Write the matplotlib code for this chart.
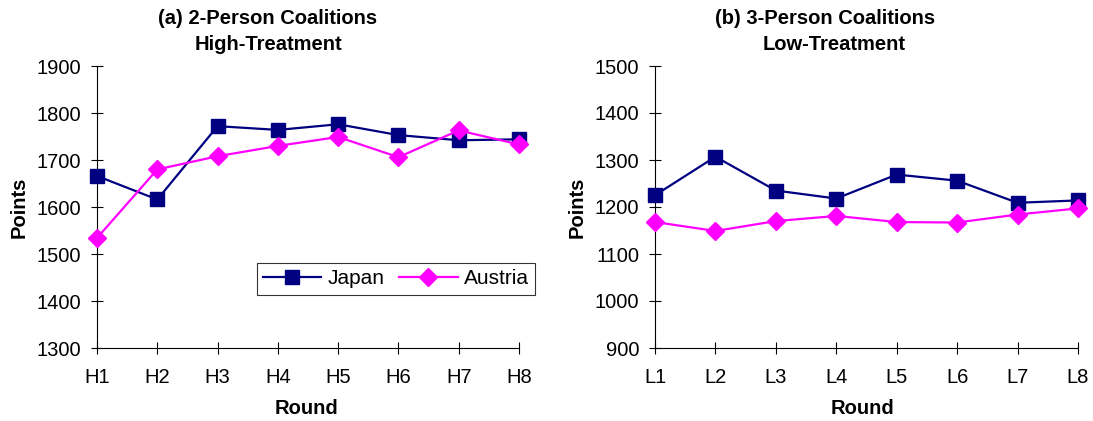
import matplotlib
matplotlib.use("Agg")
import matplotlib.pyplot as plt

plt.rcParams['font.family'] = ['Liberation Sans', 'DejaVu Sans']

# average points per round
high_rounds = ['H1', 'H2', 'H3', 'H4', 'H5', 'H6', 'H7', 'H8']
high_japan = [1666, 1616, 1772, 1764, 1776, 1753, 1742, 1744]
high_austria = [1534, 1680, 1708, 1730, 1749, 1706, 1763, 1733]

low_rounds = ['L1', 'L2', 'L3', 'L4', 'L5', 'L6', 'L7', 'L8']
low_japan = [1225, 1307, 1235, 1218, 1269, 1256, 1209, 1214]
low_austria = [1168, 1149, 1170, 1181, 1168, 1167, 1184, 1197]

navy = '#000080'
magenta = '#FF00FF'

fig = plt.figure(figsize=(10.93, 4.21), dpi=100)
ax1 = fig.add_axes([97/1093, 73/421, 422/1093, 282/421])
ax2 = fig.add_axes([655/1093, 73/421, 423/1093, 282/421])


def draw(ax, rounds, japan, austria, ylim):
    x = range(len(rounds))
    ax.plot(x, japan, color=navy, lw=1.6, marker='s', ms=10, label='Japan', clip_on=False, zorder=3)
    ax.plot(x, austria, color=magenta, lw=1.6, marker='D', ms=9.5, label='Austria', clip_on=False, zorder=4)
    ax.set_xlim(0, len(rounds) - 1)
    ax.set_ylim(*ylim)
    ax.set_yticks(range(ylim[0], ylim[1] + 1, 100))
    ax.set_xticks(list(x))
    ax.set_xticklabels(rounds)
    for s in ['top', 'right']:
        ax.spines[s].set_visible(False)
    for s in ['left', 'bottom']:
        ax.spines[s].set_linewidth(0.8)
    ax.tick_params(direction='inout', length=9, width=0.8, labelsize=14.5)
    ax.tick_params(axis='y', pad=7)
    ax.tick_params(axis='x', pad=10)


draw(ax1, high_rounds, high_japan, high_austria, (1300, 1900))
draw(ax2, low_rounds, low_japan, low_austria, (900, 1500))

title_kw = dict(ha='center', va='center', fontsize=14.5, fontweight='bold')
fig.text(268/1093, 1 - 18/421, '(a) 2-Person Coalitions', **title_kw)
fig.text(268/1093, 1 - 45/421, 'High-Treatment', **title_kw)
fig.text(825/1093, 1 - 18/421, '(b) 3-Person Coalitions', **title_kw)
fig.text(834/1093, 1 - 45/421, 'Low-Treatment', **title_kw)

label_kw = dict(ha='center', va='center', fontsize=14.5, fontweight='bold')
fig.text(306/1093, 1 - 409/421, 'Round', **label_kw)
fig.text(862/1093, 1 - 409/421, 'Round', **label_kw)
fig.text(19/1093, 1 - 207/421, 'Points', rotation=90, **label_kw)
fig.text(577/1093, 1 - 207/421, 'Points', rotation=90, **label_kw)

leg = ax1.legend(loc='center', bbox_to_anchor=(396/1093, 1 - 279/421), bbox_transform=fig.transFigure,
                 ncol=2, fontsize=15, frameon=True, fancybox=False, edgecolor='black',
                 handlelength=2.8, columnspacing=0.7, handletextpad=0.3, borderpad=0.3)
leg.get_frame().set_linewidth(0.8)

fig.savefig('out.png', dpi=100)
